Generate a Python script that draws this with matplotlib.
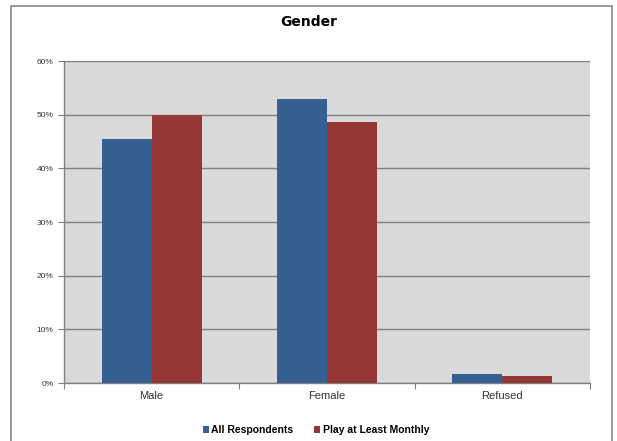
import numpy as np
import matplotlib.pyplot as plt
from matplotlib.patches import Rectangle
from matplotlib.ticker import PercentFormatter

plt.rcParams['font.family'] = ['Liberation Sans', 'DejaVu Sans']

categories = ["Male", "Female", "Refused"]
all_respondents = [45.4, 52.9, 1.7]
play_monthly = [49.9, 48.6, 1.3]
series_names = ["All Respondents", "Play at Least Monthly"]

fig = plt.figure(figsize=(6.17, 4.41), dpi=100)
# outer chart border
fig.patches.append(Rectangle((11/617, -0.05), 601/617, 1.05 - 6/441, transform=fig.transFigure,
                             fill=False, edgecolor='#888888', linewidth=1.2))
ax = fig.add_axes([64/617, 58/441, 526/617, 322/441])
ax.set_facecolor('#d9d9d9')

x = np.arange(len(categories))
w = 0.285
ax.bar(x - w/2, all_respondents, w, color='#366092', label=series_names[0], zorder=3)
ax.bar(x + w/2, play_monthly, w, color='#953735', label=series_names[1], zorder=3)

ax.set_xlim(-0.5, 2.5)
ax.set_ylim(0, 60)
ax.set_yticks(range(0, 61, 10))
ax.yaxis.set_major_formatter(PercentFormatter(decimals=0))
ax.grid(axis='y', color='#808080', linewidth=1.0, zorder=1)
ax.set_axisbelow(True)

ax.set_xticks([-0.5, 0.5, 1.5, 2.5])
ax.set_xticklabels([])
ax.set_xticks(x, minor=True)
ax.set_xticklabels(categories, minor=True, fontsize=8, color='#333333')
ax.tick_params(axis='x', which='minor', length=0, pad=6)
ax.tick_params(axis='x', which='major', length=4, color='#808080')
ax.tick_params(axis='y', length=4, color='#808080', labelsize=6, labelcolor='#333333')

for s in ['top', 'right']:
    ax.spines[s].set_visible(False)
for s in ['left', 'bottom']:
    ax.spines[s].set_color('#808080')
    ax.spines[s].set_linewidth(1.0)

fig.text(0.5, 1 - 22/441, "Gender", ha='center', va='center', fontsize=10, fontweight='bold',
         family=['DejaVu Sans'])

leg = fig.legend(loc='center', bbox_to_anchor=(316/617, 1 - 430/441), ncol=2, frameon=False,
                 prop={'size': 7.5, 'weight': 'bold'}, handlelength=0.6, handleheight=0.7,
                 handletextpad=0.2, columnspacing=2.0)

fig.savefig("out.png", dpi=100)
